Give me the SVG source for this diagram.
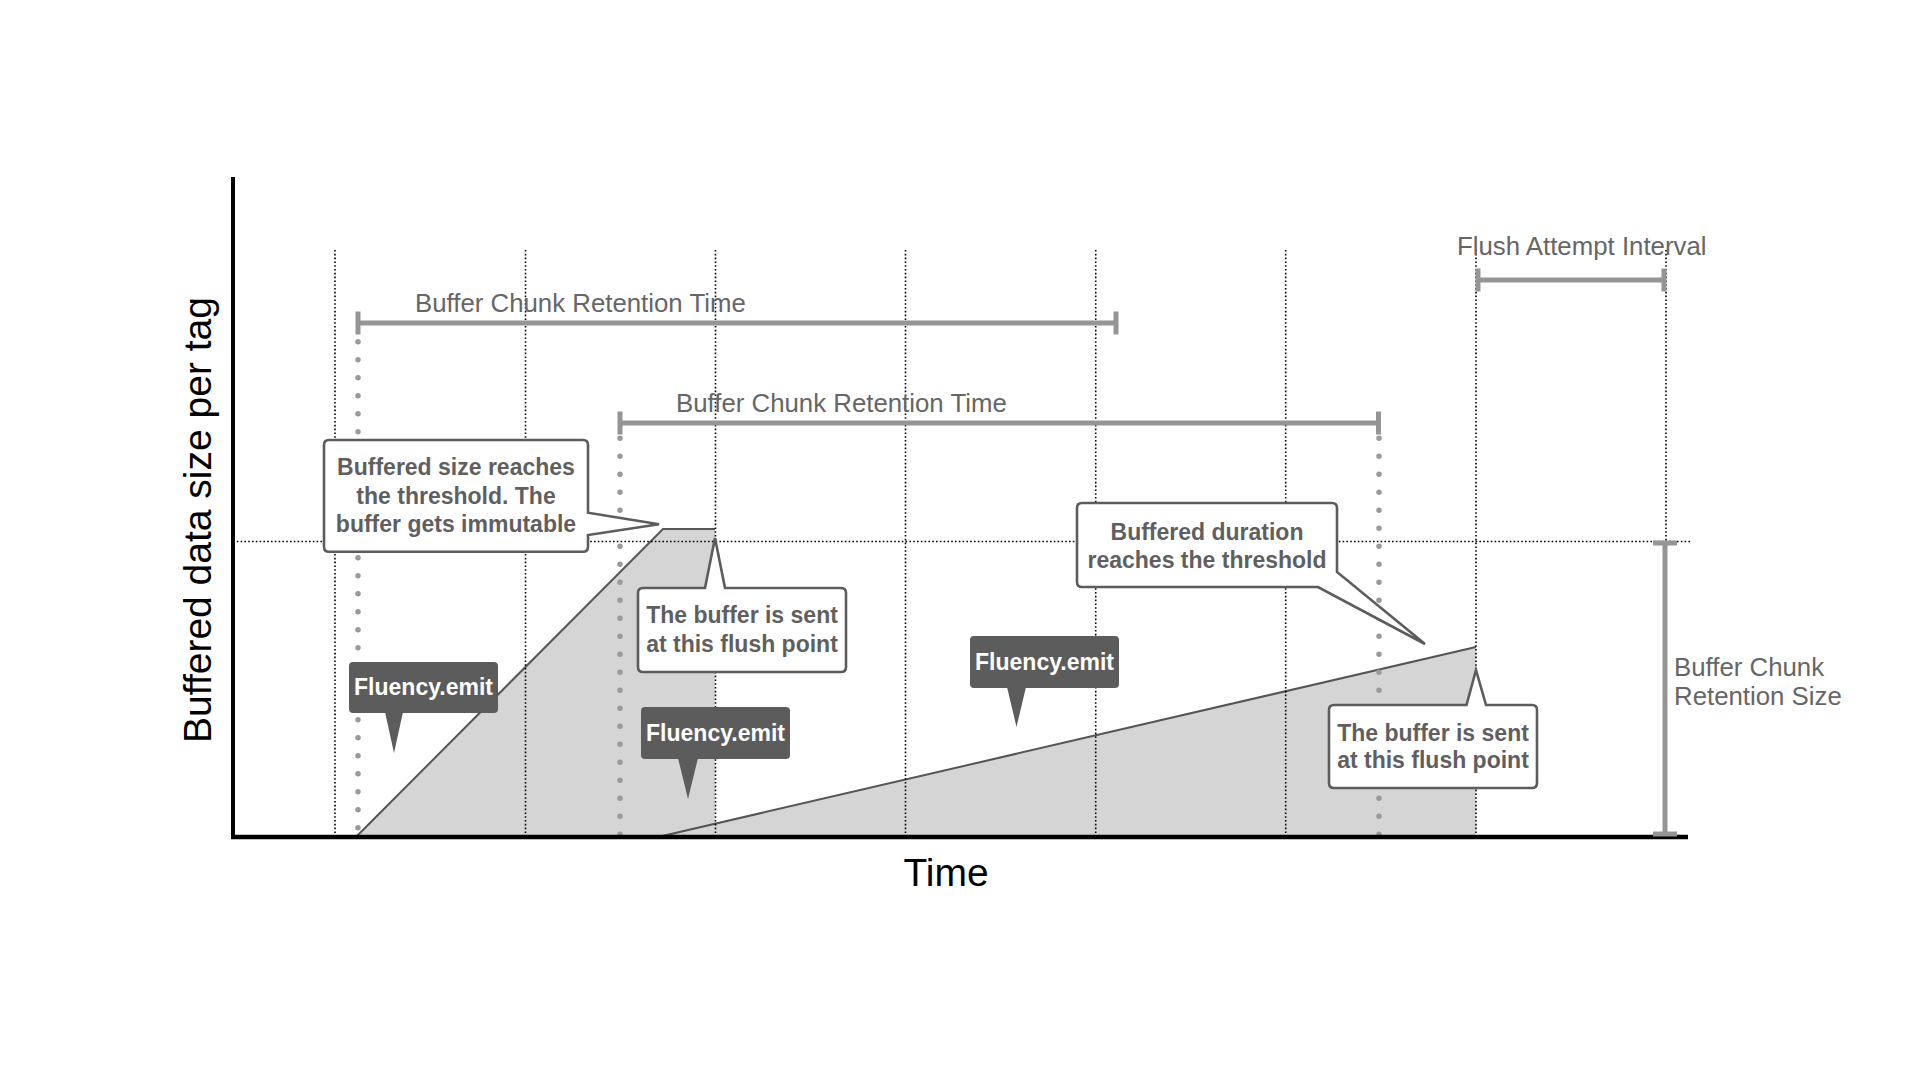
<svg xmlns="http://www.w3.org/2000/svg" width="1920" height="1080" viewBox="0 0 1920 1080">
<style>
.grid{stroke:#000;stroke-width:1.6;stroke-dasharray:1.6 2.2;fill:none}
.gdots{stroke:#9a9a9a;stroke-width:5.5;stroke-linecap:round;stroke-dasharray:0 18;fill:none}
.bar{stroke:#959595;stroke-width:5;fill:none}
.fillr{fill:#d5d5d5;stroke:none}
.edge{stroke:#555;stroke-width:2;fill:none}
.callout{fill:#fff;stroke:#5c5c5c;stroke-width:2.6;stroke-linejoin:miter}
.ctext{font-family:"Liberation Sans",Arial,sans-serif;font-weight:bold;font-size:23px;fill:#5f5f5f;text-anchor:middle}
.emit{fill:#5c5c5c}
.etext{font-family:"Liberation Sans",Arial,sans-serif;font-weight:bold;font-size:23px;fill:#fff;text-anchor:middle}
.lbl{font-family:"Liberation Sans",Arial,sans-serif;font-size:25.8px;fill:#666}
.axis{stroke:#000;fill:none}
.atext{font-family:"Liberation Sans",Arial,sans-serif;font-size:39px;fill:#000;text-anchor:middle}
</style>
<rect width="1920" height="1080" fill="#fff"/>
<g id="fills">
<polygon class="fillr" points="355,837 663,529 715,529 715,837"/>
<polygon class="fillr" points="658,837 1476,647 1476,837"/>
<polyline class="edge" points="355,838 663,529 715,529"/>
<polyline class="edge" points="658,837 1476,647"/>
</g>
<g id="grid">
<line class="grid" x1="335" y1="250" x2="335" y2="837"/>
<line class="grid" x1="525.5" y1="250" x2="525.5" y2="837"/>
<line class="grid" x1="715.5" y1="250" x2="715.5" y2="837"/>
<line class="grid" x1="905.5" y1="250" x2="905.5" y2="837"/>
<line class="grid" x1="1095.7" y1="250" x2="1095.7" y2="837"/>
<line class="grid" x1="1285.7" y1="250" x2="1285.7" y2="837"/>
<line class="grid" x1="1476" y1="250" x2="1476" y2="837"/>
<line class="grid" x1="1666" y1="250" x2="1666" y2="837"/>
<line class="grid" x1="233" y1="541.5" x2="1690" y2="541.5"/>
<line class="gdots" x1="358" y1="341.7" x2="358" y2="837"/>
<line class="gdots" x1="620" y1="438.3" x2="620" y2="837"/>
<line class="gdots" x1="1379" y1="438.3" x2="1379" y2="837"/>
</g>
<g id="axes">
<line class="axis" stroke-width="4" x1="233" y1="177" x2="233" y2="839"/>
<line class="axis" stroke-width="4.5" x1="231" y1="837" x2="1688" y2="837"/>
<text class="atext" x="946" y="886">Time</text>
<text class="atext" font-size="40" transform="translate(211,520) rotate(-90)" x="0" y="0">Buffered data size per tag</text>
</g>
<g id="connectors">
<g id="retention-time-1">
<line class="bar" x1="358" y1="323" x2="1116" y2="323"/>
<line class="bar" x1="358" y1="311.5" x2="358" y2="334.5"/>
<line class="bar" x1="1116" y1="311.5" x2="1116" y2="334.5"/>
</g>
<g id="retention-time-2">
<line class="bar" x1="620" y1="423" x2="1378.5" y2="423"/>
<line class="bar" x1="620" y1="411.5" x2="620" y2="434.5"/>
<line class="bar" x1="1378.5" y1="411.5" x2="1378.5" y2="434.5"/>
</g>
<g id="flush-interval">
<line class="bar" x1="1478" y1="280" x2="1664" y2="280"/>
<line class="bar" x1="1478" y1="268.5" x2="1478" y2="291.5"/>
<line class="bar" x1="1664" y1="268.5" x2="1664" y2="291.5"/>
</g>
<g id="retention-size">
<line class="bar" x1="1665" y1="541" x2="1665" y2="836"/>
<line class="bar" x1="1653" y1="543" x2="1677" y2="543"/>
<line class="bar" x1="1653" y1="834" x2="1677" y2="834"/>
</g>
</g>
<g id="labels">
<text class="lbl" x="415" y="312">Buffer Chunk Retention Time</text>
<text class="lbl" x="676" y="411.7">Buffer Chunk Retention Time</text>
<text class="lbl" x="1457" y="255">Flush Attempt Interval</text>
<text class="lbl" x="1674" y="676">Buffer Chunk</text>
<text class="lbl" x="1674" y="705">Retention Size</text>
</g>
<g id="emit1">
<rect class="emit" x="349" y="662" width="149" height="51" rx="4"/>
<polygon class="emit" points="385,712 403,712 394,753"/>
<text class="etext" x="423.5" y="695">Fluency.emit</text>
</g>
<g id="emit2">
<rect class="emit" x="641" y="707" width="149" height="52" rx="4"/>
<polygon class="emit" points="678,758 698,758 688,799"/>
<text class="etext" x="715.5" y="741">Fluency.emit</text>
</g>
<g id="emit3">
<rect class="emit" x="970" y="636" width="149" height="52" rx="4"/>
<polygon class="emit" points="1007,687 1026,687 1016.5,727"/>
<text class="etext" x="1044.5" y="670">Fluency.emit</text>
</g>
<g id="callout-size">
<path class="callout" d="M329,440 H583 Q588,440 588,445 V512.7 L659,524.3 L588,535 V546.7 Q588,551.7 583,551.7 H329 Q324,551.7 324,546.7 V445 Q324,440 329,440 Z"/>
<text class="ctext" x="456" y="475">Buffered size reaches</text>
<text class="ctext" x="456" y="503.5">the threshold. The</text>
<text class="ctext" x="456" y="532">buffer gets immutable</text>
</g>
<g id="callout-sent-1">
<path class="callout" d="M643,588 H705 L715,538 L725,588 H841 Q846,588 846,593 V667 Q846,672 841,672 H643 Q638,672 638,667 V593 Q638,588 643,588 Z"/>
<text class="ctext" x="742" y="622.7">The buffer is sent</text>
<text class="ctext" x="742" y="651.7">at this flush point</text>
</g>
<g id="callout-duration">
<path class="callout" d="M1082,503 H1332 Q1337,503 1337,508 V572 L1425,644 L1318,587 H1082 Q1077,587 1077,582 V508 Q1077,503 1082,503 Z"/>
<text class="ctext" x="1207" y="540">Buffered duration</text>
<text class="ctext" x="1207" y="567.5">reaches the threshold</text>
</g>
<g id="callout-sent-2">
<path class="callout" d="M1334,705 H1466.5 L1476,670 L1486,705 H1532 Q1537,705 1537,710 V783 Q1537,788 1532,788 H1334 Q1329,788 1329,783 V710 Q1329,705 1334,705 Z"/>
<text class="ctext" x="1433" y="740.7">The buffer is sent</text>
<text class="ctext" x="1433" y="768.3">at this flush point</text>
</g>
</svg>
